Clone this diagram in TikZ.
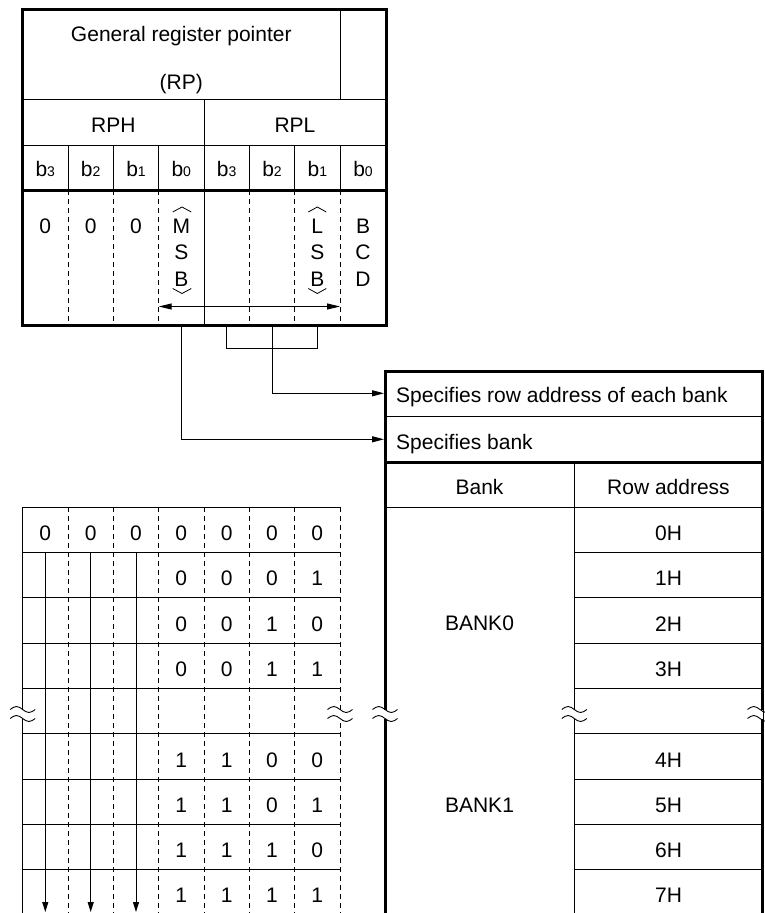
\documentclass[tikz,border=0pt]{standalone}
\usepackage{fontspec}
\setmainfont{Liberation Sans}
\usetikzlibrary{arrows.meta}
\tikzset{
  txt/.style={inner sep=0pt, anchor=base, font=\fontsize{21}{25}\selectfont},
  txtw/.style={inner sep=0pt, anchor=base west, font=\fontsize{21}{25}\selectfont},
  thickln/.style={line width=3pt},
  thinln/.style={line width=1pt},
  dsh/.style={line width=1pt, dash pattern=on 5pt off 4pt},
  arr/.style={line width=1pt, -{Triangle[length=12pt,width=6pt]}},
  darr/.style={line width=1pt, {Triangle[length=13pt,width=6pt]}-{Triangle[length=13pt,width=6pt]}},
  tld/.style={line width=0.9pt},
}
\newcommand\bsub[1]{b{\fontsize{14}{14}\selectfont #1}}
\newcommand\brkmark[2]{%
  \begin{scope}[shift={(#1,#2)}]
    \fill[white] (-3,-4.5) rectangle (3,4.5);
    \draw[tld] (-12.5,-4.5) sin (-6.25,-7.5) cos (0,-4.5) sin (6.25,-1.5) cos (12.5,-4.5);
    \draw[tld] (-12.5,4.5) sin (-6.25,1.5) cos (0,4.5) sin (6.25,7.5) cos (12.5,4.5);
  \end{scope}}
\begin{document}
\begin{tikzpicture}[x=1pt,y=-1pt]
\useasboundingbox (0,0) rectangle (765,913);
\clip (0,0) rectangle (765,913);

% ---------- top register box ----------
\draw[thinln] (22.7,99) -- (386,99);
\draw[thinln] (22.7,145) -- (386,145);
\draw[thinln] (340,9.3) -- (340,99);
\draw[thinln] (204,99) -- (204,325.5);
\foreach \x in {68,113.3,158.7,249.3,294.7,340}{
  \draw[thinln] (\x,145) -- (\x,190);
  \draw[dsh] (\x,190) -- (\x,325.5);
}
\draw[thickln] (22.7,190) -- (386,190);
\draw[thickln] (22.7,9.3) rectangle (386,325.5);

\node[txt] (title) at (181.3,41.5) {General register pointer};
\node[txt] (rp) at (181.3,89) {(RP)};
\node[txt] (rph) at (113.3,132.7) {RPH};
\node[txt] (rpl) at (295,132.7) {RPL};
\foreach \x/\d [count=\i] in {45.3/3,90.7/2,136/1,181.3/0,226.7/3,272/2,317.3/1,363/0}{
  \node[txt] (bit\i) at (\x,176.7) {\bsub{\d}};
}
\foreach \x [count=\i] in {45.3,90.7,136}{
  \node[txt] (z\i) at (\x,233.3) {0};
}
\node[txt] (m1) at (181.3,233.3) {M};
\node[txt] (m2) at (181.3,259.7) {S};
\node[txt] (m3) at (181.3,286) {B};
\node[txt] (l1) at (317.3,233.3) {L};
\node[txt] (l2) at (317.3,259.7) {S};
\node[txt] (l3) at (317.3,286) {B};
\node[txt] (c1) at (363,233.3) {B};
\node[txt] (c2) at (363,259.7) {C};
\node[txt] (c3) at (363,286) {D};
\draw[line width=0.8pt] (172.7,212) -- (182,207) -- (191.3,212);
\draw[line width=0.8pt] (172.7,288.5) -- (182,293.5) -- (191.3,288.5);
\draw[line width=0.8pt] (308.3,212) -- (317.3,207) -- (326.3,212);
\draw[line width=0.8pt] (308.3,288.5) -- (317.3,293.5) -- (326.3,288.5);

\coordinate (msbL) at (158.7,306.5);
\coordinate (lsbR) at (340,306.5);
\draw[darr] (msbL) -- (lsbR);

% ---------- connectors ----------
\coordinate (oBank) at (181.7,325.5);
\coordinate (oRow) at (272.3,325.5);
\coordinate (brL) at (226.7,325.5);
\coordinate (brR) at (317.3,325.5);
\coordinate (inRow) at (384,393.3);
\coordinate (inBank) at (384,439.3);
\draw[thinln] (brL) -- (226.7,348.3) -- (317.3,348.3) -- (brR);
\draw[arr] (oRow) |- (inRow);
\draw[arr] (oBank) |- (inBank);

% ---------- right box ----------
\draw[thinln] (385,416.7) -- (762.7,416.7);
\draw[thickln] (385,462) -- (762.7,462);
\draw[thinln] (574.3,462) -- (574.3,920);
\draw[thinln] (385,507.3) -- (762.7,507.3);
\foreach \k in {1,...,8}{
  \draw[thinln] (574.3,507.3+45.33*\k) -- (762.7,507.3+45.33*\k);
}
\draw[thickln] (385,920) -- (385,371.7) -- (762.7,371.7) -- (762.7,920);

\node[txtw] (spRow) at (396,402.5) {Specifies row address of each bank};
\node[txtw] (spBank) at (396,449) {Specifies bank};
\node[txt] (hBank) at (479.5,494) {Bank};
\node[txt] (hRow) at (668.5,494) {Row address};
\foreach \k/\t in {0/0H,1/1H,2/2H,3/3H,5/4H,6/5H,7/6H,8/7H}{
  \node[txt] (ra\k) at (668.5,540.5+45.3*\k) {\t};
}
\node[txt] (bank0) at (479.5,630.7) {BANK0};
\node[txt] (bank1) at (479.5,812.3) {BANK1};

% ---------- left table ----------
\draw[thinln] (22.7,507.3) -- (340,507.3);
\foreach \k in {1,...,8}{
  \draw[thinln] (22.7,507.3+45.33*\k) -- (340,507.3+45.33*\k);
}
\draw[thinln] (22.7,507.3) -- (22.7,920);
\foreach \x in {68,113.3,158.7,204,249.3,294.7,340}{
  \draw[dsh] (\x,507.3) -- (\x,920);
}
\foreach \x [count=\i] in {45.3,90.7,136}{
  \coordinate (as\i) at (\x,552.7);
  \coordinate (ae\i) at (\x,912);
  \draw[line width=1pt, -{Triangle[length=10pt,width=6pt]}] (as\i) -- (ae\i);
}
\foreach \x [count=\i] in {45.3,90.7,136,181.3,226.7,272,317.3}{
  \node[txt] (r0c\i) at (\x,540.5) {0};
}
\foreach \k/\a/\b/\c/\d in {1/0/0/0/1,2/0/0/1/0,3/0/0/1/1,5/1/1/0/0,6/1/1/0/1,7/1/1/1/0,8/1/1/1/1}{
  \node[txt] (r\k c4) at (181.3,540.5+45.3*\k) {\a};
  \node[txt] (r\k c5) at (226.7,540.5+45.3*\k) {\b};
  \node[txt] (r\k c6) at (272,540.5+45.3*\k) {\c};
  \node[txt] (r\k c7) at (317.3,540.5+45.3*\k) {\d};
}

% ---------- break marks ----------
\brkmark{22.7}{714}
\brkmark{340}{714}
\brkmark{385}{714}
\brkmark{574.3}{714}
\brkmark{760}{714}
\end{tikzpicture}
\end{document}
